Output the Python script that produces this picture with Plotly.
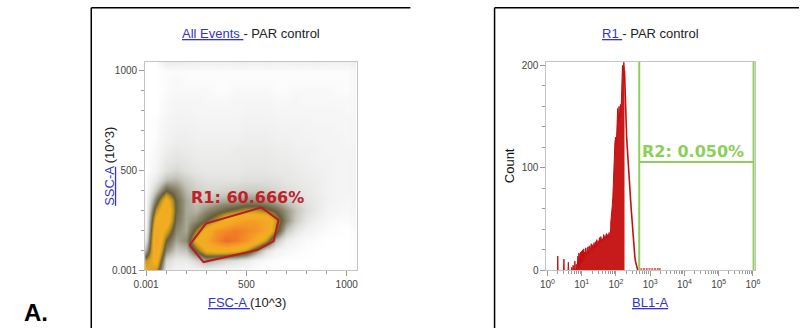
import plotly.graph_objects as go

# ---------------- data: left panel (FSC-A vs SSC-A density) ----------------
dens_x = [0, 50, 100, 150, 200, 250, 300, 350, 400, 450, 500, 550, 600, 650, 700, 750, 800, 850, 900, 950, 1000, 1050]
dens_y = [0, 50, 100, 150, 200, 250, 300, 350, 400, 450, 500, 550, 600, 650, 700, 750, 800, 850, 900, 950, 1000, 1050]
density = [
    [6, 5, 0.8, 0.4, 0.3, 0.3, 0.3, 0.2, 0.1, 0.1, 0.05, 0, 0, 0, 0, 0, 0, 0, 0, 0, 0, 0.1],
    [5, 6.5, 1.5, 0.8, 0.8, 1.5, 2.5, 2, 1.5, 1.2, 0.8, 0.3, 0.1, 0.05, 0, 0, 0, 0, 0, 0, 0, 0.1],
    [2.5, 7.5, 3, 1.8, 2, 4, 6, 6.5, 6.5, 6, 5, 3, 1.2, 0.4, 0.2, 0.1, 0.05, 0, 0, 0, 0, 0.1],
    [1.2, 8, 4, 2.5, 3, 6, 7.5, 9, 10, 9.5, 8.5, 7, 5, 2, 0.7, 0.3, 0.1, 0.05, 0, 0, 0, 0.1],
    [0.6, 7.5, 5.5, 3, 2.5, 4.5, 6.5, 8.5, 9, 9.5, 9, 8.5, 7.5, 4.5, 2, 1, 0.5, 0.2, 0.1, 0.05, 0, 0.2],
    [0.4, 6.5, 7, 3.5, 2.5, 3, 4, 5, 6.5, 7.5, 8, 8, 7.5, 5, 3, 1.8, 1, 0.5, 0.2, 0.1, 0.1, 0.3],
    [0.3, 5, 7.5, 3.8, 2.5, 2.3, 3, 3.5, 4, 4.5, 5, 5, 4.5, 3.8, 2.8, 2, 1.3, 0.8, 0.4, 0.3, 0.2, 0.4],
    [0.2, 3.5, 6.5, 3.8, 2.5, 2, 2, 2.3, 2.5, 2.6, 2.9, 2.9, 2.7, 2.3, 1.9, 1.5, 1.1, 0.8, 0.5, 0.4, 0.3, 0.5],
    [0.1, 2, 4, 3.2, 2.2, 1.7, 1.5, 1.5, 1.6, 1.7, 1.8, 1.8, 1.7, 1.5, 1.3, 1.1, 0.9, 0.7, 0.5, 0.4, 0.4, 0.5],
    [0.1, 1, 2.2, 2.3, 1.8, 1.4, 1.2, 1.2, 1.2, 1.2, 1.3, 1.3, 1.3, 1.2, 1.0, 0.9, 0.8, 0.7, 0.5, 0.4, 0.4, 0.5],
    [0, 0.4, 1.2, 1.5, 1.2, 1.0, 0.9, 0.9, 0.9, 0.9, 1.0, 1.0, 1.0, 0.9, 0.9, 0.8, 0.7, 0.6, 0.5, 0.4, 0.4, 0.5],
    [0, 0.3, 0.9, 1.1, 1.0, 0.8, 0.8, 0.8, 0.8, 0.8, 0.9, 0.9, 0.9, 0.8, 0.8, 0.7, 0.6, 0.5, 0.5, 0.4, 0.4, 0.5],
    [0, 0.2, 0.7, 0.9, 0.8, 0.7, 0.7, 0.7, 0.7, 0.8, 0.8, 0.8, 0.8, 0.7, 0.7, 0.6, 0.6, 0.5, 0.4, 0.4, 0.4, 0.4],
    [0, 0.1, 0.5, 0.7, 0.7, 0.6, 0.6, 0.6, 0.6, 0.6, 0.7, 0.7, 0.7, 0.6, 0.6, 0.5, 0.5, 0.4, 0.4, 0.4, 0.3, 0.4],
    [0, 0.1, 0.4, 0.6, 0.6, 0.5, 0.5, 0.5, 0.5, 0.5, 0.6, 0.6, 0.6, 0.5, 0.5, 0.5, 0.4, 0.4, 0.4, 0.3, 0.3, 0.4],
    [0, 0.1, 0.3, 0.5, 0.5, 0.4, 0.4, 0.4, 0.4, 0.4, 0.5, 0.5, 0.5, 0.4, 0.4, 0.4, 0.4, 0.3, 0.3, 0.3, 0.3, 0.4],
    [0, 0, 0.2, 0.4, 0.4, 0.3, 0.3, 0.3, 0.3, 0.3, 0.4, 0.4, 0.4, 0.3, 0.3, 0.3, 0.3, 0.3, 0.3, 0.3, 0.2, 0.3],
    [0, 0, 0.2, 0.3, 0.3, 0.3, 0.2, 0.2, 0.2, 0.3, 0.3, 0.3, 0.3, 0.2, 0.2, 0.3, 0.2, 0.2, 0.2, 0.2, 0.2, 0.3],
    [0, 0, 0.1, 0.2, 0.2, 0.2, 0.2, 0.1, 0.1, 0.2, 0.2, 0.2, 0.2, 0.1, 0.1, 0.2, 0.2, 0.2, 0.2, 0.1, 0.1, 0.3],
    [0, 0, 0.1, 0.2, 0.1, 0.1, 0.1, 0.1, 0.1, 0.1, 0.1, 0.1, 0.1, 0.1, 0.1, 0.1, 0.1, 0.1, 0.1, 0.1, 0.1, 0.3],
    [0, 0, 0.1, 0.1, 0.1, 0.1, 0.1, 0.1, 0.1, 0.1, 0.1, 0.1, 0.1, 0.1, 0.1, 0.1, 0.1, 0.1, 0.1, 0.1, 0.1, 0.3],
    [0, 0, 0.8, 0.8, 0.7, 0.7, 0.6, 0.7, 0.6, 0.7, 0.7, 0.6, 0.7, 0.6, 0.6, 0.7, 0.6, 0.7, 0.6, 0.6, 0.6, 0.8],
]

# R1 gate polygon (FSC-A, SSC-A in 10^3)
gate_r1_x = [216, 298, 574, 660, 636, 554, 286, 216]
gate_r1_y = [125, 233, 314, 252, 146, 101, 41, 125]
r1_label = "R1: 60.666%"

# ---------------- data: right panel (BL1-A histogram, log10 channels) ----------------
sparse_log = [0.29, 0.30, 0.31, 0.47, 0.48, 0.49, 0.60, 0.61, 0.62, 0.70, 0.71, 0.72,
              0.74, 0.75, 0.76, 0.79, 0.80, 0.81, 0.83, 0.84, 0.85]
sparse_count = [0, 14, 0, 0, 11, 0, 0, 8, 0, 0, 3, 0, 0, 5, 0, 0, 9, 0, 0, 6, 0]

body_log = [0.86, 0.87, 0.88, 0.89, 0.90, 0.91, 0.92, 0.93, 0.94, 0.95, 0.96, 0.97, 0.98, 0.99,
            1.00, 1.01, 1.02, 1.03, 1.04, 1.05, 1.06, 1.07, 1.08, 1.10, 1.12, 1.14, 1.16, 1.18,
            1.20, 1.22, 1.24, 1.26, 1.28, 1.30, 1.32, 1.34, 1.36, 1.38, 1.40, 1.42, 1.44, 1.46,
            1.48, 1.50, 1.52, 1.54, 1.56, 1.58, 1.60, 1.62, 1.64, 1.66, 1.68, 1.70, 1.72, 1.74,
            1.76, 1.78, 1.80, 1.82, 1.84, 1.85, 1.87, 1.89, 1.91, 1.93, 1.95, 1.97, 1.99, 2.01,
            2.03, 2.05, 2.07, 2.09, 2.11, 2.13, 2.15, 2.17, 2.19, 2.21, 2.23, 2.25]
body_count = [0, 9, 0, 14, 2, 12, 17, 4, 10, 16, 6, 18, 9, 13,
              19, 8, 15, 20, 10, 17, 21, 12, 18, 14, 22, 15, 20, 23,
              16, 24, 18, 22, 26, 19, 25, 21, 27, 22, 28, 23, 30, 24,
              29, 26, 32, 27, 33, 28, 31, 29, 35, 30, 34, 31, 36, 32,
              35, 33, 37, 33, 35, 47, 52, 62, 72, 95, 115, 125, 130, 122,
              140, 158, 145, 160, 148, 162, 155, 185, 200, 190, 203, 195]

tail_log = [2.25, 2.27, 2.29, 2.31, 2.33, 2.35, 2.37, 2.39, 2.41, 2.43, 2.45, 2.47, 2.49,
            2.51, 2.53, 2.55, 2.57, 2.59, 2.61, 2.63, 2.65]
tail_count = [195, 165, 145, 132, 120, 107, 98, 88, 78, 68, 58, 48, 38,
              29, 21, 14, 9, 5, 3, 1, 0]

events_log = [2.74, 2.82, 2.90, 2.98, 3.06, 3.14, 3.22, 3.28]
events_count = [1.5, 1.5, 1.5, 1.5, 1.5, 1.5, 1.5, 1.5]

# R2 gate (log10 bounds and level in counts)
gate_r2_low = 2.68
gate_r2_high = 6.02
gate_r2_level = 105.7
r2_label = "R2: 0.050%"

# ---------------- styling ----------------
FONT = "Liberation Sans, Arial, sans-serif"
BOLD = "DejaVu Sans, Verdana, sans-serif"
LINK = "#3434c8"
RED = "#c40f0f"
GATE_RED = "#b31d24"
GREEN = "#8ccf5a"
FRAME = "#c4c4c4"
TICK = "#9a9a9a"

colorscale = [
    [0.0, "#ffffff"], [0.02, "#f8f8f8"], [0.06, "#f0f0f0"], [0.12, "#e1e1df"],
    [0.2, "#c6c5bc"], [0.3, "#8e8a72"], [0.4, "#655c3c"], [0.5, "#c8961e"],
    [0.6, "#f0b020"], [0.75, "#f5a825"], [0.9, "#f38a26"], [1.0, "#ee6a2c"],
]

fig = go.Figure()

fig.add_trace(go.Heatmap(
    x=dens_x, y=dens_y, z=density, colorscale=colorscale, zmin=0, zmax=10,
    zsmooth="best", showscale=False, hoverinfo="skip", xaxis="x", yaxis="y"))

fig.add_trace(go.Scatter(
    x=gate_r1_x, y=gate_r1_y, mode="lines", line=dict(color=GATE_RED, width=2),
    hoverinfo="skip", xaxis="x", yaxis="y"))

def pow10(vals):
    return [10 ** v for v in vals]

fig.add_trace(go.Scatter(x=pow10(sparse_log), y=sparse_count, mode="lines",
                         line=dict(color=RED, width=1), hoverinfo="skip", xaxis="x2", yaxis="y2"))
fig.add_trace(go.Scatter(x=pow10(body_log), y=body_count, mode="lines", line=dict(color=RED, width=1),
                         fill="tozeroy", fillcolor="rgba(196,15,15,0.95)", hoverinfo="skip",
                         xaxis="x2", yaxis="y2"))
fig.add_trace(go.Scatter(x=pow10(tail_log), y=tail_count, mode="lines", line=dict(color=RED, width=1.6),
                         hoverinfo="skip", xaxis="x2", yaxis="y2"))
fig.add_trace(go.Scatter(x=pow10(events_log), y=events_count, mode="markers",
                         marker=dict(color="rgba(196,15,15,0.6)", size=2, symbol="square"),
                         hoverinfo="skip", xaxis="x2", yaxis="y2"))

ytop2 = 203.8
lo, hi = 10 ** gate_r2_low, 10 ** gate_r2_high
fig.add_trace(go.Scatter(
    x=[lo, lo, None, hi, hi, None, lo, hi],
    y=[0, ytop2, None, 0, ytop2, None, gate_r2_level, gate_r2_level],
    mode="lines", line=dict(color=GREEN, width=2), hoverinfo="skip", xaxis="x2", yaxis="y2"))

tickfont = dict(family=FONT, size=10, color="#444444")
common = dict(showline=True, linecolor=FRAME, linewidth=1, mirror=True, showgrid=False,
              zeroline=False, ticks="outside", ticklen=5, tickcolor=TICK, tickwidth=1,
              tickfont=tickfont)

x_dom1 = [137 / 805, 353 / 805]
x_dom2 = [547 / 805, 760 / 805]
y_dom = [1 - 275 / 334, 1 - 61 / 334]

fig.update_layout(
    width=805, height=334, margin=dict(l=0, r=0, t=0, b=0),
    paper_bgcolor="white", plot_bgcolor="white", showlegend=False,
    xaxis=dict(domain=x_dom1, range=[-5, 1049], tickvals=[0, 500, 1000],
               ticktext=["0.001", "500", "1000"],
               minor=dict(tickvals=[100, 200, 300, 400, 600, 700, 800, 900],
                          ticks="outside", ticklen=3, tickcolor=TICK),
               anchor="y", **common),
    yaxis=dict(domain=y_dom, range=[-1, 1044], tickvals=[0, 500, 1000],
               ticktext=["0.001", "500", "1000"],
               minor=dict(tickvals=[100, 200, 300, 400, 600, 700, 800, 900],
                          ticks="outside", ticklen=3, tickcolor=TICK),
               anchor="x", **common),
    xaxis2=dict(domain=x_dom2, type="log", range=[-0.03, 6.06],
                tickvals=[1, 10, 100, 1000, 10000, 100000, 1000000],
                ticktext=["10<sup>0</sup>", "10<sup>1</sup>", "10<sup>2</sup>", "10<sup>3</sup>",
                          "10<sup>4</sup>", "10<sup>5</sup>", "10<sup>6</sup>"],
                minor=dict(tickvals=[k * 10 ** d for d in range(6) for k in range(2, 10)],
                           ticks="outside", ticklen=3, tickcolor=TICK),
                anchor="y2", **common),
    yaxis2=dict(domain=y_dom, range=[0, ytop2], tickvals=[0, 100, 200],
                minor=dict(tickvals=[20, 40, 60, 80, 120, 140, 160, 180],
                           ticks="outside", ticklen=3, tickcolor=TICK),
                anchor="x2", **common),
)

def px(x):
    return x / 805

def py(y):
    return 1 - y / 334

ann = []
ann.append(dict(x=px(245), y=py(32),
                text=f"<span style='color:{LINK}'><u>All Events </u></span>- PAR control",
                font=dict(family=FONT, size=13, color="#222222")))
ann.append(dict(x=px(241), y=py(308),
                text=f"<span style='color:{LINK}'><u>FSC-A </u></span>(10^3)",
                font=dict(family=FONT, size=13, color="#222222")))
ann.append(dict(x=px(101), y=py(168), textangle=-90,
                text=f"<span style='color:{LINK}'><u>SSC-A</u></span> (10^3)",
                font=dict(family=FONT, size=13, color="#222222")))
ann.append(dict(x=px(653), y=py(32),
                text=f"<span style='color:{LINK}'><u>R1 </u></span>- PAR control",
                font=dict(family=FONT, size=13, color="#222222")))
ann.append(dict(x=px(653), y=py(308),
                text=f"<span style='color:{LINK}'><u>BL1-A</u></span>",
                font=dict(family=FONT, size=13, color="#222222")))
ann.append(dict(x=px(510), y=py(168), textangle=-90, text="Count",
                font=dict(family=FONT, size=13, color="#111111")))
ann.append(dict(x=px(11), y=py(318), xanchor="left", text="<b>A.</b>",
                font=dict(family=FONT, size=24, color="#000000")))
for a in ann:
    a.update(xref="paper", yref="paper", showarrow=False)
    a.setdefault("xanchor", "center")
    a.setdefault("yanchor", "middle")

ann.append(dict(x=507, y=366, xref="x", yref="y", text=f"<b>{r1_label}</b>", showarrow=False,
                font=dict(family=BOLD, size=16, color="#bf2127"), xanchor="center", yanchor="middle"))
ann.append(dict(x=gate_r2_low + 0.01, y=116, xref="x2", yref="y2", text=f"<b>{r2_label}</b>",
                showarrow=False, font=dict(family=BOLD, size=16, color=GREEN),
                xanchor="left", yanchor="middle"))
fig.update_layout(annotations=ann)

lw = dict(color="black", width=1.5)
fig.update_layout(shapes=[
    dict(type="line", xref="paper", yref="paper", x0=px(82), x1=px(408), y0=py(6), y1=py(6), line=lw),
    dict(type="line", xref="paper", yref="paper", x0=px(82), x1=px(82), y0=py(6), y1=0, line=lw),
    dict(type="line", xref="paper", yref="paper", x0=px(494), x1=1, y0=py(6), y1=py(6), line=lw),
    dict(type="line", xref="paper", yref="paper", x0=px(494), x1=px(494), y0=py(6), y1=0, line=lw),
])

fig.write_html("out.html",
               post_script="document.body.style.margin='0';document.body.style.overflow='hidden';")
